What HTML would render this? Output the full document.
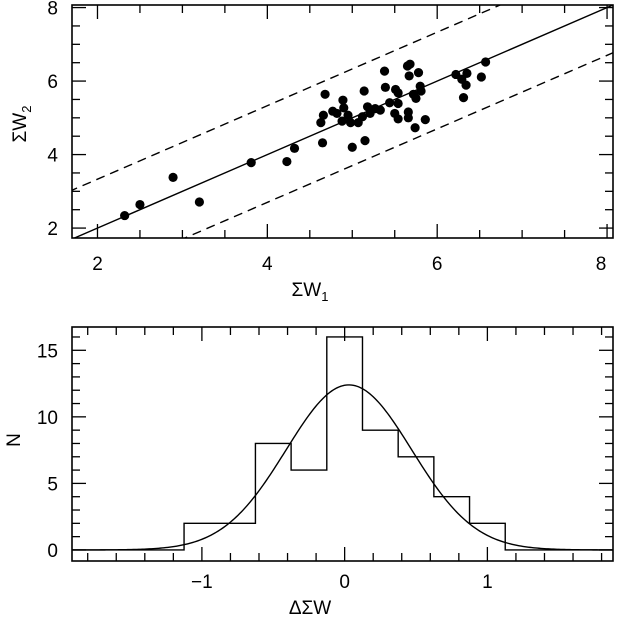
<!DOCTYPE html>
<html><head><meta charset="utf-8"><style>
body{margin:0;background:#fff}
svg{display:block;font-family:"Liberation Sans",sans-serif}
</style></head><body>
<svg id="s" width="620" height="619" viewBox="0 0 620 619"></svg>
<script>
const sx1=[2.32,2.50,2.89,3.20,3.81,4.23,4.32,4.65,4.63,4.66,4.68,4.77,4.82,4.89,4.90,4.88,4.95,4.98,5.00,5.07,5.12,5.14,5.18,5.21,5.15,5.27,5.33,5.38,5.39,5.44,5.50,5.51,5.54,5.54,5.54,5.65,5.68,5.67,5.66,5.66,5.74,5.72,5.75,5.78,5.80,5.81,5.86,6.22,6.29,6.35,6.34,6.31,6.52,6.57];
const sx2=[2.34,2.64,3.38,2.71,3.78,3.81,4.17,4.32,4.87,5.07,5.64,5.18,5.12,5.48,5.27,4.91,5.07,4.87,4.20,4.87,5.03,5.73,5.30,5.12,4.38,5.25,5.21,6.27,5.83,5.41,5.12,5.77,5.68,5.39,4.97,6.41,6.46,6.14,5.16,5.00,4.73,5.64,5.53,6.23,5.86,5.73,4.95,6.18,6.05,6.21,5.89,5.55,6.11,6.52];
const topXTicks=[2,4,6,8];
const topYTicks=[2,4,6,8];
const binEdges=[-1.125,-0.875,-0.625,-0.375,-0.125,0.125,0.375,0.625,0.875,1.125];
const binCounts=[2,2,8,6,16,9,7,4,2];
const gaussPeak=[12.4];
const gaussMean=[0.03];
const gaussSigma=[0.44];
const botXTicks=[-1,0,1];
const botYTicks=[0,5,10,15];

const NS="http://www.w3.org/2000/svg";
const svg=document.getElementById('s');
function mk(t,a,p){const e=document.createElementNS(NS,t);for(const k in a)e.setAttribute(k,a[k]);(p||svg).appendChild(e);return e;}

const tL=72,tR=613,tT=5,tB=238,tx0=1.70,tx1=8.07,ty0=1.73,ty1=8.07;
const X1=v=>tL+(v-tx0)/(tx1-tx0)*(tR-tL);
const Y1=v=>tB-(v-ty0)/(ty1-ty0)*(tB-tT);
const g1=mk('g',{});


const clip=mk('clipPath',{id:'c1'});mk('rect',{x:tL,y:tT,width:tR-tL,height:tB-tT},clip);
const lines=mk('g',{'clip-path':'url(#c1)',stroke:'#000','stroke-width':1.4,fill:'none'},g1);
let l=mk('line',{x1:X1(1.5),y1:Y1(1.5),x2:X1(8.2),y2:Y1(8.2)},lines);

l=mk('line',{x1:X1(1.5),y1:Y1(2.83),x2:X1(8.2),y2:Y1(9.53),'stroke-dasharray':'9,6'},lines);

l=mk('line',{x1:X1(1.5),y1:Y1(0.2),x2:X1(8.2),y2:Y1(6.9),'stroke-dasharray':'9,6'},lines);

sx1.forEach((v,i)=>{const c=mk('circle',{cx:X1(v),cy:Y1(sx2[i]),r:4.6,fill:'#000'},g1);

});
mk('rect',{x:tL,y:tT,width:tR-tL,height:tB-tT,fill:'none',stroke:'#000','stroke-width':1.6},g1);
for(let v=2;v<=8.01;v+=0.5){const L=(v%2===0)?14:8;const x=X1(v);
mk('line',{x1:x,y1:tB,x2:x,y2:tB-L,stroke:'#000','stroke-width':1.3},g1);
mk('line',{x1:x,y1:tT,x2:x,y2:tT+L,stroke:'#000','stroke-width':1.3},g1);}
for(let v=2;v<=8.01;v+=0.5){const L=(v%2===0)?14:8;const y=Y1(v);
mk('line',{x1:tL,y1:y,x2:tL+L,y2:y,stroke:'#000','stroke-width':1.3},g1);
mk('line',{x1:tR,y1:y,x2:tR-L,y2:y,stroke:'#000','stroke-width':1.3},g1);}
topXTicks.forEach(v=>{const t=mk('text',{x:X1(v)-(v===8?6:0),y:270,'font-size':19,'text-anchor':'middle'},g1);t.textContent=v;
});
topYTicks.forEach(v=>{const t=mk('text',{x:58,y:Y1(v)+7,'font-size':19,'text-anchor':'end'},g1);t.textContent=v;
});
let t=mk('text',{x:310,y:296,'font-size':19,'text-anchor':'middle'},g1);t.innerHTML='ΣW<tspan font-size="13" dy="5">1</tspan>';

t=mk('text',{x:0,y:0,'font-size':19,'text-anchor':'middle',transform:'translate(26,124) rotate(-90)'},g1);t.innerHTML='ΣW<tspan font-size="13" dy="5">2</tspan>';


const bL=72,bR=613,bT=327,bB=561,bx0=-1.91,bx1=1.88,by0=-0.83,by1=16.75;
const X2=v=>bL+(v-bx0)/(bx1-bx0)*(bR-bL);
const Y2=v=>bB-(v-by0)/(by1-by0)*(bB-bT);
const g2=mk('g',{});


let d=`M${X2(bx0)},${Y2(0)} L${X2(binEdges[0])},${Y2(0)}`;
binCounts.forEach((c,i)=>{d+=` L${X2(binEdges[i])},${Y2(c)} L${X2(binEdges[i+1])},${Y2(c)}`;});
d+=` L${X2(binEdges[binCounts.length])},${Y2(0)} L${X2(bx1)},${Y2(0)}`;
let p=mk('path',{d:d,fill:'none',stroke:'#000','stroke-width':1.4},g2);

let gd='';for(let i=0;i<=300;i++){const x=bx0+(bx1-bx0)*i/300;const y=gaussPeak[0]*Math.exp(-Math.pow(x-gaussMean[0],2)/(2*gaussSigma[0]*gaussSigma[0]));gd+=(i?' L':'M')+X2(x).toFixed(2)+','+Y2(y).toFixed(2);}
p=mk('path',{d:gd,fill:'none',stroke:'#000','stroke-width':1.4},g2);

mk('rect',{x:bL,y:bT,width:bR-bL,height:bB-bT,fill:'none',stroke:'#000','stroke-width':1.6},g2);
for(let k=-9;k<=9;k++){const v=k*0.2;const L=(k%5===0)?14:8;const x=X2(v);
mk('line',{x1:x,y1:bB,x2:x,y2:bB-L,stroke:'#000','stroke-width':1.3},g2);
mk('line',{x1:x,y1:bT,x2:x,y2:bT+L,stroke:'#000','stroke-width':1.3},g2);}
for(let v=0;v<=16;v++){const L=(v%5===0)?14:8;const y=Y2(v);
mk('line',{x1:bL,y1:y,x2:bL+L,y2:y,stroke:'#000','stroke-width':1.3},g2);
mk('line',{x1:bR,y1:y,x2:bR-L,y2:y,stroke:'#000','stroke-width':1.3},g2);}
botXTicks.forEach(v=>{const t=mk('text',{x:X2(v),y:588,'font-size':19,'text-anchor':'middle'},g2);t.textContent=v<0?'−'+Math.abs(v):v;
});
botYTicks.forEach(v=>{const t=mk('text',{x:58,y:Y2(v)+7,'font-size':19,'text-anchor':'end'},g2);t.textContent=v;
});
t=mk('text',{x:310,y:614,'font-size':19,'text-anchor':'middle'},g2);t.textContent='ΔΣW';

t=mk('text',{x:0,y:0,'font-size':19,'text-anchor':'middle',transform:'translate(20,440) rotate(-90)'},g2);t.textContent='N';

</script>
</body></html>
